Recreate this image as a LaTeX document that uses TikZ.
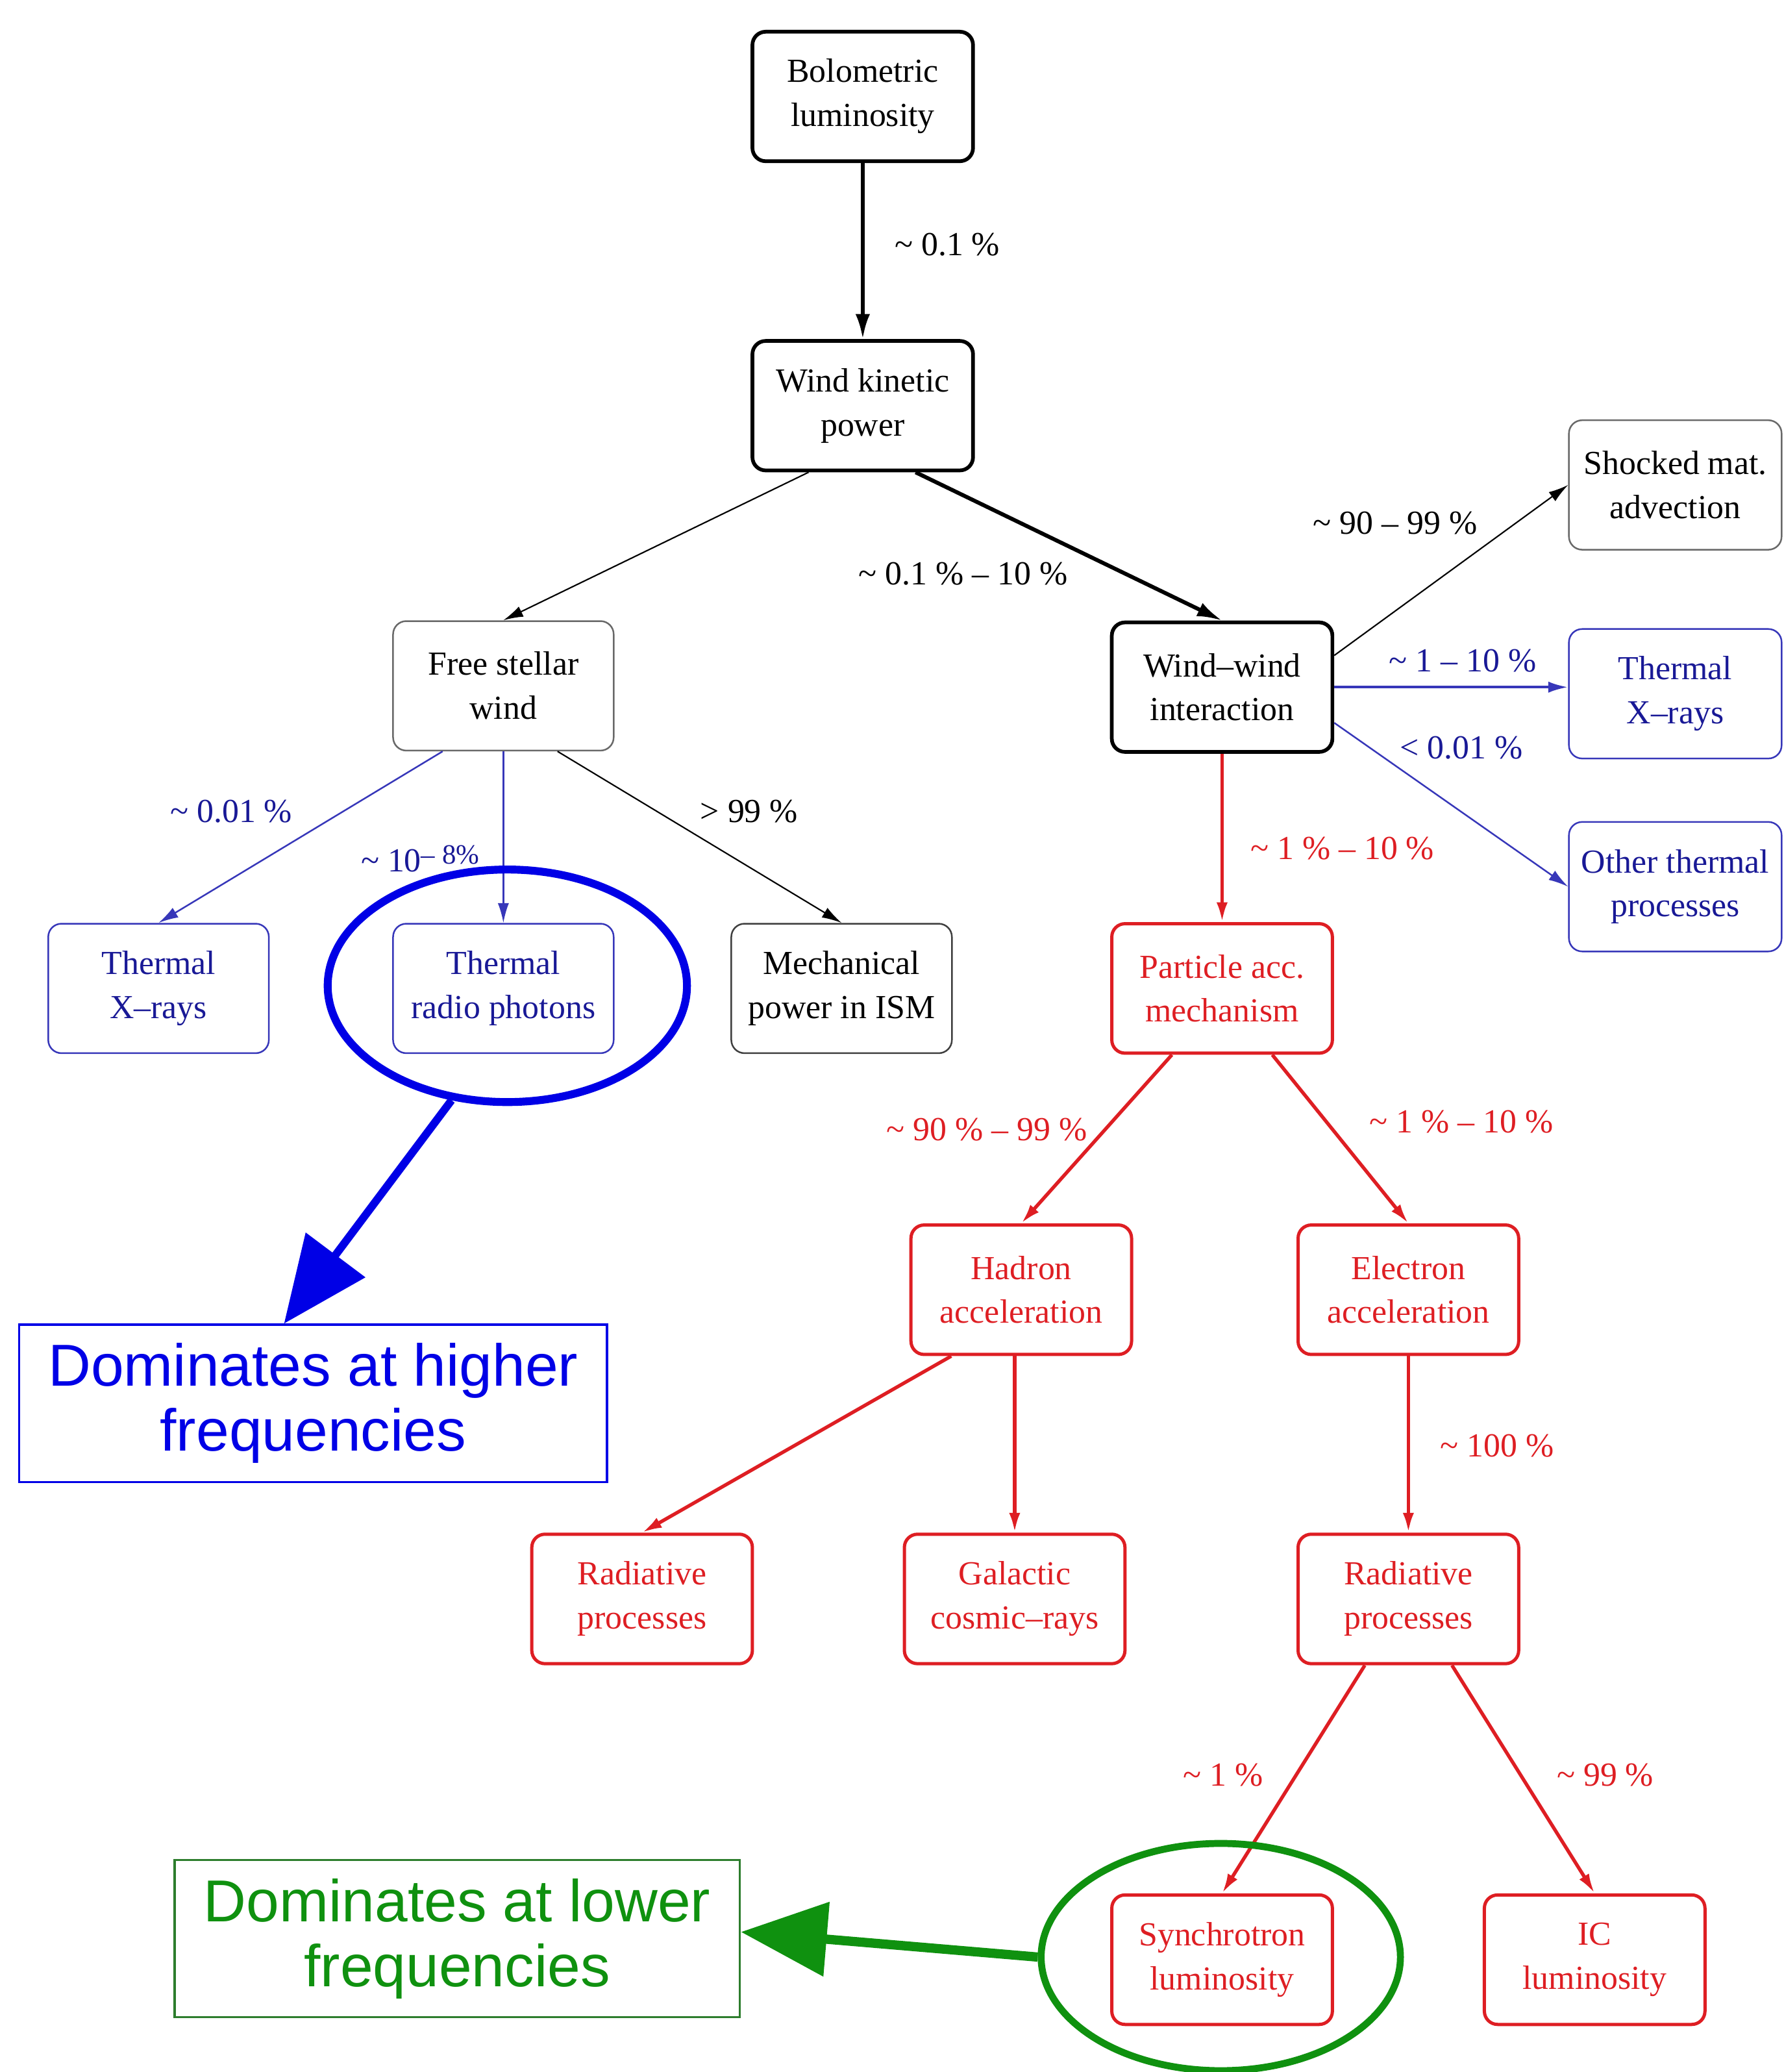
\documentclass[tikz,border=0pt]{standalone}
\usepackage{fontspec}
\setmainfont{Liberation Serif}
\newfontfamily\sansfont{Liberation Sans}
\usetikzlibrary{arrows.meta,shapes.geometric}

\definecolor{boxred}{RGB}{222,30,35}
\definecolor{boxblue}{RGB}{55,55,185}
\definecolor{txtblue}{RGB}{25,25,150}
\definecolor{boxgray}{RGB}{105,105,105}
\definecolor{bigblue}{RGB}{0,0,230}
\definecolor{biggreen}{RGB}{15,145,15}
\definecolor{notegreen}{RGB}{45,125,45}

\begin{document}
\begin{tikzpicture}[x=0.02cm,y=-0.02cm,
  flowbox/.style={rectangle,rounded corners=0.2cm,minimum width=3.34cm,minimum height=1.96cm,align=center,inner sep=1pt,font=\fontsize{14.5}{19}\selectfont},
  heavybox/.style={flowbox,draw=black,line width=1.6pt},
  plainbox/.style={flowbox,draw=boxgray,line width=0.7pt},
  bluebox/.style={flowbox,draw=boxblue,line width=0.7pt,text=txtblue},
  redbox/.style={flowbox,draw=boxred,line width=1.4pt,text=boxred},
  lbl/.style={font=\fontsize{14.5}{17}\selectfont,inner sep=1pt},
  arrowtip/.style={-{Latex[length=0.3cm,width=0.17cm]}},
  thickarrow/.style={-{Latex[length=0.38cm,width=0.22cm]},line width=1.7pt},
  thinarrow/.style={arrowtip,line width=0.6pt},
  redline/.style={arrowtip,draw=boxred,line width=1.5pt},
  blueline/.style={arrowtip,draw=boxblue,line width=0.7pt},
  notebox/.style={rectangle,minimum width=8.9cm,minimum height=2.38cm,align=center,line width=1pt,font=\sansfont\fontsize{25.5}{28}\selectfont},
  ring/.style={ellipse,minimum width=5.44cm,minimum height=3.52cm},
  bigarrow/.style={-{Triangle[length=1.3cm,width=1.1cm]}}
]
\useasboundingbox (0,0) rectangle (1350,1568);

% boxes
\node[heavybox] (bol) at (653,73) {Bolometric\\luminosity};
\node[heavybox] (wkp) at (653,307) {Wind kinetic\\power};
\node[plainbox] (fsw) at (381,519) {Free stellar\\wind};
\node[heavybox] (wwi) at (925,520) {Wind--wind\\interaction};
\node[plainbox,minimum width=3.22cm] (sma) at (1268,367) {Shocked mat.\\advection};
\node[bluebox,minimum width=3.22cm] (txr) at (1268,525) {Thermal\\X--rays};
\node[bluebox,minimum width=3.22cm] (otp) at (1268,671) {Other thermal\\processes};
\node[bluebox] (txl) at (120,748) {Thermal\\X--rays};
\node[bluebox] (trp) at (381,748) {Thermal\\radio photons};
\node[plainbox,draw=black!75] (mec) at (637,748) {Mechanical\\power in ISM};
\node[redbox] (pam) at (925,748) {Particle acc.\\mechanism};
\node[redbox] (had) at (773,976) {Hadron\\acceleration};
\node[redbox] (ele) at (1066,976) {Electron\\acceleration};
\node[redbox] (rdl) at (486,1210) {Radiative\\processes};
\node[redbox] (gcr) at (768,1210) {Galactic\\cosmic--rays};
\node[redbox] (rdr) at (1066,1210) {Radiative\\processes};
\node[redbox] (syn) at (925,1483) {Synchrotron\\luminosity};
\node[redbox] (icl) at (1207,1483) {IC\\luminosity};

% notes
\node[notebox,draw=bigblue,text=bigblue] (hif) at (237,1062) {Dominates at higher\\frequencies};
\node[notebox,minimum width=8.56cm,draw=notegreen,text=biggreen] (lof) at (346,1467) {Dominates at lower\\frequencies};

% connectors
\draw[thickarrow] (bol.south) -- (wkp.north);
\draw[thinarrow] ([xshift=-0.82cm]wkp.south) -- (fsw.north);
\draw[thickarrow] ([xshift=0.8cm]wkp.south) -- (wwi.north);
\draw[thinarrow] ([yshift=0.48cm]wwi.east) -- (sma.west);
\draw[blueline,line width=1.1pt] (wwi.east) -- (wwi.east -| txr.west);
\draw[blueline] ([yshift=-0.54cm]wwi.east) -- (otp.west);
\draw[redline] (wwi.south) -- (pam.north);
\draw[blueline] ([xshift=-0.92cm]fsw.south) -- (txl.north);
\draw[blueline] (fsw.south) -- (trp.north);
\draw[thinarrow] ([xshift=0.82cm]fsw.south) -- (mec.north);
\draw[redline] ([xshift=-0.76cm]pam.south) -- (had.north);
\draw[redline] ([xshift=0.76cm]pam.south) -- (ele.north);
\draw[redline] ([xshift=-1.06cm]had.south) -- (rdl.north);
\draw[redline] (had.south -| gcr.north) -- (gcr.north);
\draw[redline] (ele.south) -- (rdr.north);
\draw[redline] ([xshift=-0.66cm]rdr.south) -- (syn.north);
\draw[redline] ([xshift=0.66cm]rdr.south) -- (icl.north);

% fractions
\node[lbl] (f1) at (717,185) {\textasciitilde{} 0.1 \%};
\node[lbl] (f2) at (729,434) {\textasciitilde{} 0.1 \% -- 10 \%};
\node[lbl] (f3) at (1056,396) {\textasciitilde{} 90 -- 99 \%};
\node[lbl,text=txtblue] (f4) at (1107,500) {\textasciitilde{} 1 -- 10 \%};
\node[lbl,text=txtblue] (f5) at (1106,566) {< 0.01 \%};
\node[lbl,text=boxred] (f6) at (1016,642) {\textasciitilde{} 1 \% -- 10 \%};
\node[lbl,text=txtblue] (f7) at (175,614) {\textasciitilde{} 0.01 \%};
\node[lbl,text=txtblue] (f8) at (318,650) {\textasciitilde{} 10{\fontsize{12}{14}\selectfont\raisebox{0.6ex}{-- 8\%}}};
\node[lbl] (f9) at (567,614) {> 99 \%};
\node[lbl,text=boxred] (f10) at (747,855) {\textasciitilde{} 90 \% -- 99 \%};
\node[lbl,text=boxred] (f11) at (1106,849) {\textasciitilde{} 1 \% -- 10 \%};
\node[lbl,text=boxred] (f12) at (1133,1094) {\textasciitilde{} 100 \%};
\node[lbl,text=boxred] (f13) at (926,1343) {\textasciitilde{} 1 \%};
\node[lbl,text=boxred] (f14) at (1215,1343) {\textasciitilde{} 99 \%};

% highlights
\node[ring,draw=bigblue,line width=3.4pt] (bring) at (384,746) {};
\node[ring,draw=biggreen,line width=3pt,minimum height=3.44cm] (gring) at (924,1481) {};
\draw[bigarrow,draw=bigblue,fill=bigblue,line width=3.4pt] (bring.-116) -- ([xshift=-0.44cm]hif.north);
\draw[bigarrow,draw=biggreen,fill=biggreen,line width=4pt] (gring.west) -- ([yshift=0.1cm]lof.east);

\end{tikzpicture}
\end{document}
